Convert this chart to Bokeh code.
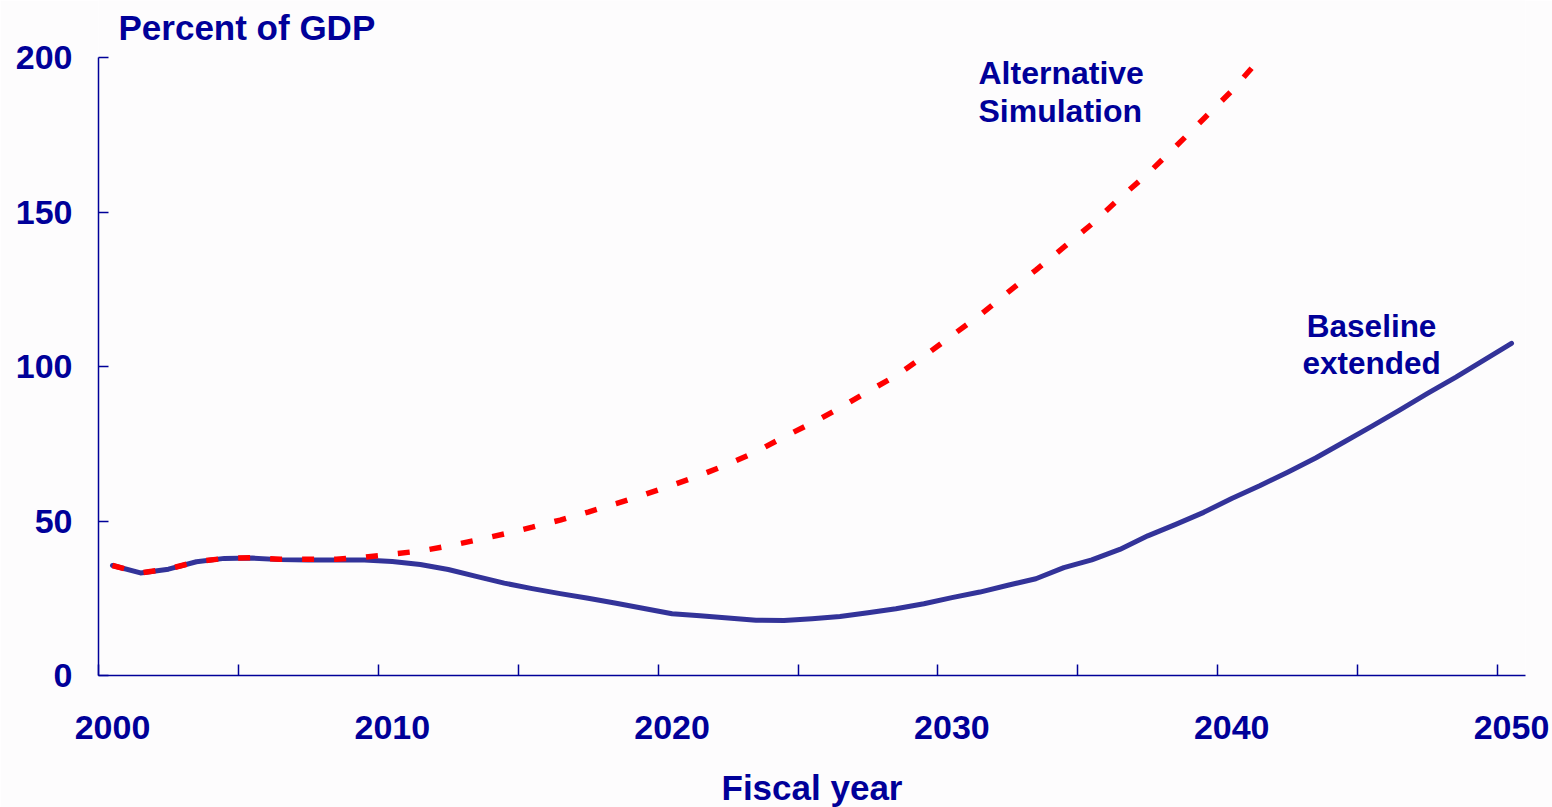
from bokeh.plotting import figure
from bokeh.models import Range1d, FixedTicker, Label, ColumnDataSource
from bokeh.transform import dodge
from bokeh.embed import file_html
from bokeh.resources import INLINE

# ---- data ----
years_baseline = list(range(2000, 2051))
baseline_extended = [
    35.6, 33.2, 34.4, 36.8, 37.9, 38.0, 37.5, 37.4, 37.4, 37.4,
    36.9, 35.9, 34.3, 32.1, 29.9, 28.1, 26.5, 25.0, 23.4, 21.7,
    20.0, 19.3, 18.6, 17.9, 17.8, 18.4, 19.1, 20.3, 21.6, 23.2,
    25.2, 27.0, 29.2, 31.3, 34.9, 37.4, 40.8, 45.2, 48.9, 52.8,
    57.3, 61.4, 65.8, 70.4, 75.5, 80.6, 85.9, 91.3, 96.5, 102.0,
    107.5,
]
years_alternative = list(range(2000, 2042))
alternative_simulation = [
    35.6, 33.2, 34.5, 36.8, 37.9, 38.1, 37.6, 37.6, 37.6, 38.3,
    39.3, 40.3, 41.9, 43.8, 45.8, 48.0, 50.3, 52.9, 55.6, 58.5,
    61.6, 64.8, 68.4, 72.4, 77.2, 81.7, 86.6, 91.9, 97.0, 103.3,
    110.0, 116.6, 124.0, 131.2, 138.6, 146.1, 154.5, 162.4, 171.2, 180.2,
    189.2, 199.5,
]
x_tick_labels = ["2000", "2010", "2020", "2030", "2040", "2050"]
x_tick_marks = [2000, 2005, 2010, 2015, 2020, 2025, 2030, 2035, 2040, 2045, 2050]
y_ticks = [0, 50, 100, 150, 200]

NAVY = "#000099"
FONT = "Liberation Sans"

# frame reaches the top of the canvas so the unit label can sit above 200;
# the drawn y axis is bounded to 0..200
Y_MAX = 200
Y_TOP = Y_MAX * 675 / 618

p = figure(
    title=None,
    frame_width=1427, frame_height=675,
    x_range=Range1d(2000, 2051), y_range=Range1d(0, Y_TOP),
    output_backend="svg", toolbar_location=None,
    min_border_left=98, min_border_top=0, min_border_right=27, min_border_bottom=0,
)
p.background_fill_color = "#fdfcfd"
p.border_fill_color = "#fdfcfd"
p.outline_line_color = None
p.grid.visible = False

# labels sit at the middle of each year slot, tick marks at year boundaries
label_pos = [int(s) + 0.5 for s in x_tick_labels]
p.xaxis.ticker = FixedTicker(ticks=label_pos, minor_ticks=x_tick_marks)
p.xaxis.major_label_overrides = {int(s) + 0.5: s for s in x_tick_labels}
p.xaxis.major_tick_in = 0
p.xaxis.major_tick_out = 0
p.xaxis.major_tick_line_color = None
p.xaxis.minor_tick_in = 11
p.xaxis.minor_tick_out = 0
p.xaxis.minor_tick_line_color = NAVY
p.xaxis.minor_tick_line_width = 1.5
p.xaxis.major_label_standoff = 40
p.xaxis.axis_label = "Fiscal year"
p.xaxis.axis_label_standoff = 26

p.yaxis.ticker = FixedTicker(ticks=y_ticks)
p.yaxis.bounds = (0, Y_MAX)
p.yaxis.major_tick_in = 10
p.yaxis.major_tick_out = 0
p.yaxis.minor_tick_line_color = None
p.yaxis.major_label_standoff = 26

for ax in (p.xaxis, p.yaxis):
    ax.axis_line_color = NAVY
    ax.axis_line_width = 1.5
    ax.major_tick_line_width = 1.5
    ax.major_label_text_font = FONT
    ax.major_label_text_font_style = "bold"
    ax.major_label_text_font_size = "34px"
    ax.major_label_text_color = NAVY
    ax.axis_label_text_font = FONT
    ax.axis_label_text_font_style = "bold"
    ax.axis_label_text_font_size = "35px"
    ax.axis_label_text_color = NAVY
p.yaxis.major_tick_line_color = NAVY

src_b = ColumnDataSource(dict(year=years_baseline, value=baseline_extended))
src_a = ColumnDataSource(dict(year=years_alternative, value=alternative_simulation))

p.line(x=dodge("year", 0.5), y="value", source=src_b,
       line_color="#333399", line_width=5, line_cap="round", line_join="round")
p.line(x=dodge("year", 0.5), y="value", source=src_a,
       line_color="#ff0000", line_width=5.5, line_dash="12 20")

def add_label(text, x, y, align="left", size="32px", x_offset=0, y_offset=11):
    p.add_layout(Label(
        x=x, y=y, x_offset=x_offset, y_offset=y_offset, text=text,
        text_font=FONT, text_font_style="bold", text_font_size=size,
        text_color=NAVY, text_align=align, text_baseline="alphabetic",
    ))

add_label("Percent of GDP", 2000, Y_MAX, size="35px", x_offset=20, y_offset=19 + 11)
add_label("Alternative", 2031.45, 191.5, size="32px")
add_label("Simulation", 2031.45, 179.1, size="32px")
add_label("Baseline", 2045.5, 109.4, align="center", size="31.5px")
add_label("extended", 2045.5, 97.7, align="center", size="31.5px")

open("out.html", "w").write(file_html(p, INLINE))
